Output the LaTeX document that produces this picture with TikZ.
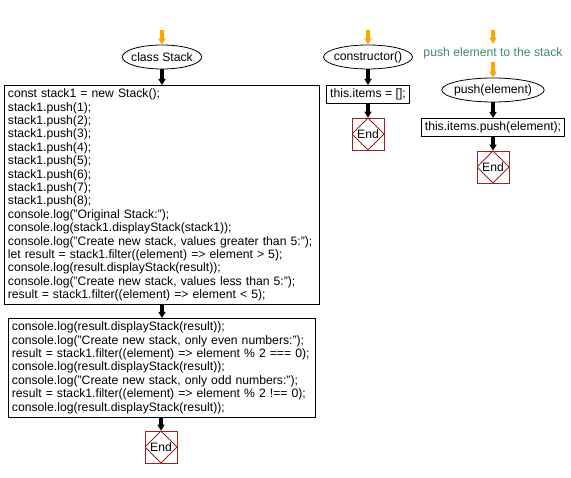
\documentclass[tikz,border=0pt]{standalone}
\usepackage{fontspec}
\setmainfont{Liberation Sans}
\usetikzlibrary{arrows.meta, positioning, shapes.geometric}

\definecolor{startorange}{RGB}{255,165,0}
\definecolor{notegreen}{RGB}{61,139,109}
\definecolor{endred}{RGB}{153,34,34}

\begin{document}
\begin{tikzpicture}[
  x=1pt, y=-1pt,
  every node/.style={font=\fontsize{12.2}{13.4}\selectfont},
  entry/.style={ellipse, draw, thick, inner ysep=0pt, inner xsep=-2.8pt, minimum width=79pt, minimum height=24pt},
  code/.style={rectangle, draw, thick, align=left, inner sep=3.5pt, anchor=north west},
  stop/.style={rectangle, draw=endred, thick, minimum size=32pt, inner sep=0pt,
    path picture={\draw[endred, thick] (path picture bounding box.north) -- (path picture bounding box.east)
      -- (path picture bounding box.south) -- (path picture bounding box.west) -- cycle;}},
  note/.style={text=notegreen},
  flow/.style={line width=3.5pt, -{Triangle[length=6pt, width=7pt]}},
  start/.style={flow, startorange}
  ]
  \useasboundingbox (0,0) rectangle (571,478);

  % class Stack
  \coordinate (s0) at (162,30);
  \node[entry] (cls) at (162,57) {class Stack};
  \node[code, text width=308pt] (main) at (4,85) {const stack1 = new Stack();\\
stack1.push(1);\\
stack1.push(2);\\
stack1.push(3);\\
stack1.push(4);\\
stack1.push(5);\\
stack1.push(6);\\
stack1.push(7);\\
stack1.push(8);\\
console.log("Original Stack:");\\
console.log(stack1.displayStack(stack1));\\
console.log("Create new stack, values greater than 5:");\\
let result = stack1.filter((element) => element > 5);\\
console.log(result.displayStack(result));\\
console.log("Create new stack, values less than 5:");\\
result = stack1.filter((element) => element < 5);};
  \node[code, text width=300pt] (rest) at (8,318) {console.log(result.displayStack(result));\\
console.log("Create new stack, only even numbers:");\\
result = stack1.filter((element) => element \% 2 === 0);\\
console.log(result.displayStack(result));\\
console.log("Create new stack, only odd numbers:");\\
result = stack1.filter((element) => element \% 2 !== 0);\\
console.log(result.displayStack(result));};
  \node[stop] (end1) at (161,447) {End};

  % constructor
  \coordinate (c0) at (368,30);
  \node[entry, minimum width=83pt] (ctor) at (368,57) {constructor()};
  \node[code, anchor=north] (init) at (368,85) {this.items = [];};
  \node[stop] (end2) at (368,134) {End};

  % push
  \coordinate (p0) at (493,30);
  \node[note] (pnote) at (493,53) {push element to the stack};
  \node[entry, minimum width=97pt] (push) at (493,90) {push(element)};
  \node[code, anchor=north] (pbody) at (493,118) {this.items.push(element);};
  \node[stop] (end3) at (493,167) {End};

  % connectors
  \draw[start] (s0) -- (cls);
  \draw[flow] (cls) -- (main.north -| cls);
  \draw[flow] (main.south -| cls) -- (rest.north -| cls);
  \draw[flow] (rest.south -| end1) -- (end1);

  \draw[start] (c0) -- (ctor);
  \draw[flow] (ctor) -- (init);
  \draw[flow] (init) -- (end2);

  \draw[start] (p0) -- (pnote);
  \draw[start] (pnote) -- (push);
  \draw[flow] (push) -- (pbody);
  \draw[flow] (pbody) -- (end3);

\end{tikzpicture}
\end{document}
